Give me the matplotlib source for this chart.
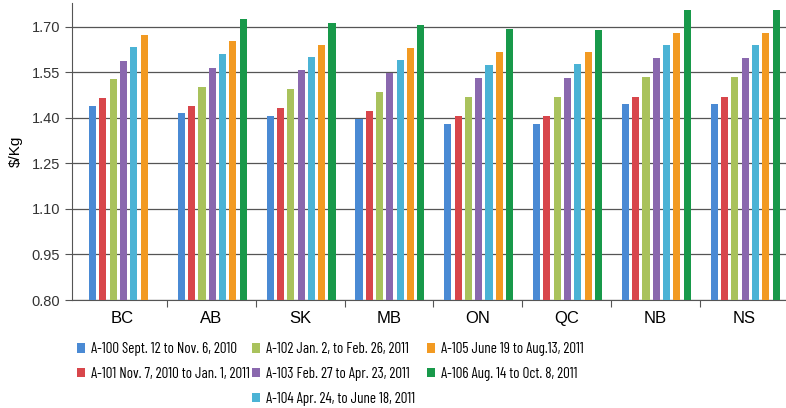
import matplotlib
matplotlib.use("Agg")
import numpy as np
import matplotlib.pyplot as plt
from matplotlib.patches import Patch

plt.rcParams["font.family"] = ["Liberation Sans", "DejaVu Sans"]
NARROW = ["Barlow Condensed", "Roboto Condensed", "Liberation Sans", "DejaVu Sans"]

provinces = ["BC", "AB", "SK", "MB", "ON", "QC", "NB", "NS"]
series = [
    "A-100 Sept. 12 to Nov. 6, 2010",
    "A-101 Nov. 7, 2010 to Jan. 1, 2011",
    "A-102 Jan. 2, to Feb. 26, 2011",
    "A-103 Feb. 27 to Apr. 23, 2011",
    "A-104 Apr. 24, to June 18, 2011",
    "A-105 June 19 to Aug.13, 2011",
    "A-106 Aug. 14 to Oct. 8, 2011",
]
colors = ["#4a8ad4", "#d8464b", "#a9c25c", "#8a68ae", "#4bb3d5", "#f29a22", "#18994a"]

a100 = [1.440, 1.415, 1.408, 1.397, 1.380, 1.380, 1.446, 1.446]
a101 = [1.465, 1.440, 1.432, 1.423, 1.407, 1.407, 1.470, 1.470]
a102 = [1.529, 1.503, 1.495, 1.487, 1.470, 1.470, 1.536, 1.536]
a103 = [1.588, 1.564, 1.558, 1.547, 1.531, 1.531, 1.597, 1.597]
a104 = [1.635, 1.611, 1.602, 1.591, 1.575, 1.577, 1.641, 1.641]
a105 = [1.674, 1.652, 1.641, 1.630, 1.619, 1.619, 1.681, 1.681]
a106 = [np.nan, 1.725, 1.714, 1.707, 1.692, 1.690, 1.756, 1.756]
values = [a100, a101, a102, a103, a104, a105, a106]

fig = plt.figure(figsize=(7.86, 4.08), dpi=100)
ax = fig.add_axes([0.0916, 0.2647, 0.9084, 0.7288])

x = np.arange(len(provinces))
slot = 0.116
bw = 0.08
for i, (vals, col) in enumerate(zip(values, colors)):
    ax.bar(x + (i - 3) * slot + 0.01, np.array(vals) - 0.80, bw, bottom=0.80,
           color=col, zorder=3, linewidth=0)

ax.set_ylim(0.80, 1.78)
ax.set_xlim(-0.57, 7.47)
ax.set_yticks([0.80, 0.95, 1.10, 1.25, 1.40, 1.55, 1.70])
ax.set_yticklabels(["0.80", "0.95", "1.10", "1.25", "1.40", "1.55", "1.70"], fontsize=10.5,
                   color="#333333")
ax.set_xticks(x)
ax.set_xticklabels(provinces, fontsize=12)
ax.tick_params(axis="x", length=0, pad=8)
ax.set_xticks(x[:-1] + 0.5, minor=True)
ax.tick_params(axis="x", which="minor", length=5, width=0.8, color="#555555")
ax.tick_params(axis="y", length=5, width=0.8, color="#555555")
ax.set_axisbelow(True)
ax.yaxis.grid(True, color="#555555", lw=0.9, zorder=0)
for s in ("top", "right"):
    ax.spines[s].set_visible(False)
for s in ("left", "bottom"):
    ax.spines[s].set_color("#555555")
ax.set_ylabel(r"\$/Kg", fontsize=11, labelpad=6)

# legend in three columns of 2, 3 and 2 entries
handles = [Patch(fc=c, label=l) for c, l in zip(colors, series)]
cols = [(handles[0:2], 0.098), (handles[2:5], 0.320), (handles[5:7], 0.543)]
for hs, xpos in cols:
    leg = fig.legend(handles=hs, loc="upper left", bbox_to_anchor=(xpos, 0.161),
                     frameon=False, prop={"family": NARROW, "size": 10.8, "weight": "normal"},
                     handlelength=0.55, handleheight=0.55, handletextpad=0.4,
                     labelspacing=0.72, borderaxespad=0, borderpad=0)

fig.savefig("out.png", dpi=100, facecolor="white")
